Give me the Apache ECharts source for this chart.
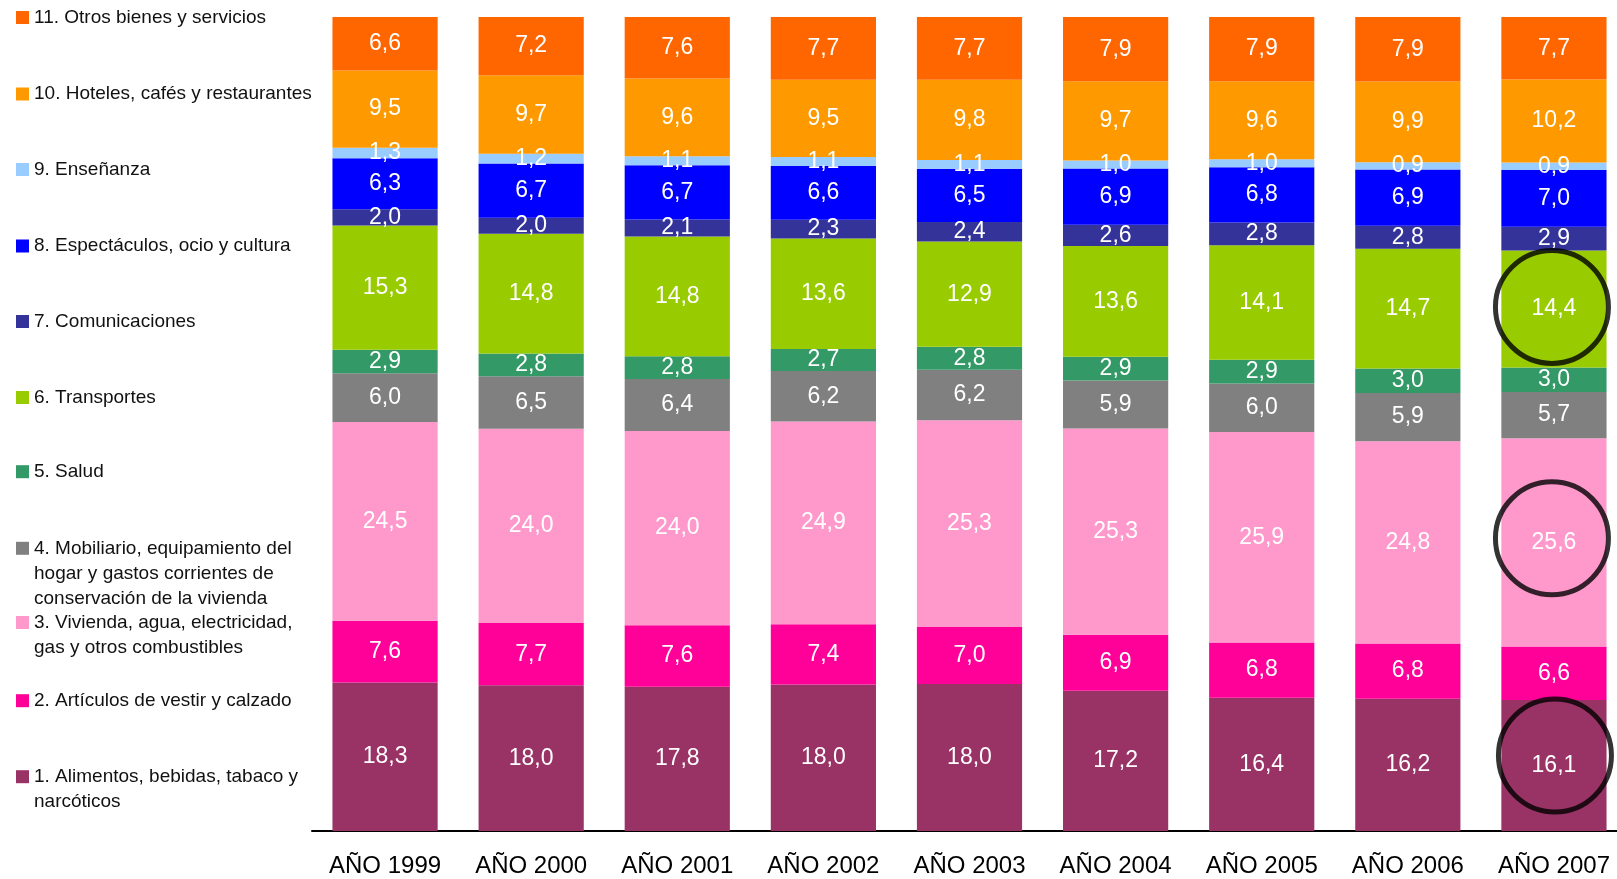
<!DOCTYPE html>
<html>
<head>
<meta charset="utf-8">
<script src="https://cdn.jsdelivr.net/npm/echarts@6/dist/echarts.min.js"></script>
<style>
html,body{margin:0;padding:0;background:#fff;}
#chart{width:1617px;height:879px;}
</style>
</head>
<body>
<div id="chart"></div>
<script>
// Categories (years)
const years = ['AÑO 1999','AÑO 2000','AÑO 2001','AÑO 2002','AÑO 2003','AÑO 2004','AÑO 2005','AÑO 2006','AÑO 2007'];

// Series names (bottom to top of stack)
const seriesNames = [
  '1. Alimentos, bebidas, tabaco y\nnarcóticos',
  '2. Artículos de vestir y calzado',
  '3. Vivienda, agua, electricidad,\ngas y otros combustibles',
  '4. Mobiliario, equipamiento del\nhogar y gastos corrientes de\nconservación de la vivienda',
  '5. Salud',
  '6. Transportes',
  '7. Comunicaciones',
  '8. Espectáculos, ocio y cultura',
  '9. Enseñanza',
  '10. Hoteles, cafés y restaurantes',
  '11. Otros bienes y servicios'
];

// Values per series, one per year (percent of spending)
const alimentos      = [18.3, 18.0, 17.8, 18.0, 18.0, 17.2, 16.4, 16.2, 16.1];
const vestir         = [7.6, 7.7, 7.6, 7.4, 7.0, 6.9, 6.8, 6.8, 6.6];
const vivienda       = [24.5, 24.0, 24.0, 24.9, 25.3, 25.3, 25.9, 24.8, 25.6];
const mobiliario     = [6.0, 6.5, 6.4, 6.2, 6.2, 5.9, 6.0, 5.9, 5.7];
const salud          = [2.9, 2.8, 2.8, 2.7, 2.8, 2.9, 2.9, 3.0, 3.0];
const transportes    = [15.3, 14.8, 14.8, 13.6, 12.9, 13.6, 14.1, 14.7, 14.4];
const comunicaciones = [2.0, 2.0, 2.1, 2.3, 2.4, 2.6, 2.8, 2.8, 2.9];
const espectaculos   = [6.3, 6.7, 6.7, 6.6, 6.5, 6.9, 6.8, 6.9, 7.0];
const ensenanza      = [1.3, 1.2, 1.1, 1.1, 1.1, 1.0, 1.0, 0.9, 0.9];
const hoteles        = [9.5, 9.7, 9.6, 9.5, 9.8, 9.7, 9.6, 9.9, 10.2];
const otros          = [6.6, 7.2, 7.6, 7.7, 7.7, 7.9, 7.9, 7.9, 7.7];

// Highlighted (circled) segments: series index, year index
const circled = [[5, 8], [2, 8], [0, 8]];

const allValues = [alimentos, vestir, vivienda, mobiliario, salud, transportes,
  comunicaciones, espectaculos, ensenanza, hoteles, otros];

const colors = ['#993366','#FF0099','#FF99CC','#808080','#339966','#99CC00',
  '#333399','#0000FF','#99CCFF','#FF9900','#FF6600'];

// 100% stacking: normalise each column by its total
const totals = years.map((_, j) => allValues.reduce((s, arr) => s + arr[j], 0));
const norm = allValues.map(arr => arr.map((v, j) => v / totals[j] * 100));

const FONT = '"Liberation Sans", Arial, sans-serif';

const barSeries = seriesNames.map((name, i) => ({
  name: name,
  type: 'bar',
  stack: 'total',
  barCategoryGap: '28%',
  itemStyle: { color: colors[i] },
  label: {
    show: true,
    position: 'inside',
    color: '#fff',
    fontSize: 23,
    fontFamily: FONT,
    formatter: p => allValues[i][p.dataIndex].toFixed(1).replace('.', ',')
  },
  emphasis: { disabled: true },
  data: norm[i]
}));

// circle centres at the middle of the highlighted segments (via stack sums)
const circleOffsets = [[-2, -2], [-2, -4], [1, -10]];
const circleData = circled.map(([si, yi], k) => {
  let below = 0;
  for (let s = 0; s < si; s++) below += norm[s][yi];
  return { value: [years[yi], below + norm[si][yi] / 2], symbolOffset: circleOffsets[k] };
});

const circleSeries = {
  name: 'circles',
  type: 'scatter',
  symbol: 'circle',
  symbolSize: 113,
  z: 10,
  silent: true,
  itemStyle: { color: 'rgba(0,0,0,0)', borderColor: '#000', borderWidth: 5 },
  data: circleData
};

// one legend per entry, positioned like the original
const legendCenters = [776.7, 700.7, 622.5, 548.3, 471.7, 397.5, 321.5, 246, 169.5, 94, 17.5];
const LH = 25;
const legends = seriesNames.map((name, i) => {
  const n = name.split('\n').length;
  return {
    data: [name],
    left: 16,
    top: legendCenters[i] - (2 * n - 1) * LH / 2,
    orient: 'vertical',
    padding: 0,
    itemWidth: 13,
    itemHeight: 13,
    icon: 'rect',
    selectedMode: false,
    // leading blank lines keep the first text line level with the marker
    formatter: t => '\n'.repeat(n - 1) + t,
    textStyle: {
      fontSize: 19,
      fontFamily: FONT,
      color: '#111',
      lineHeight: LH
    }
  };
});

const chart = echarts.init(document.getElementById('chart'), null, { renderer: 'canvas' });
chart.setOption({
  animation: false,
  backgroundColor: '#fff',
  legend: legends,
  grid: { left: 312, width: 1315, top: 17, bottom: 48, containLabel: false, outerBoundsMode: 'none' },
  xAxis: {
    type: 'category',
    data: years,
    axisLine: { show: true, lineStyle: { color: '#000', width: 2 } },
    axisTick: { show: false },
    axisLabel: { color: '#000', fontSize: 24, fontFamily: FONT, margin: 23, interval: 0 }
  },
  yAxis: {
    type: 'value',
    min: 0,
    max: 100,
    show: false,
    splitLine: { show: false }
  },
  series: barSeries.concat([circleSeries])
});
</script>
</body>
</html>
